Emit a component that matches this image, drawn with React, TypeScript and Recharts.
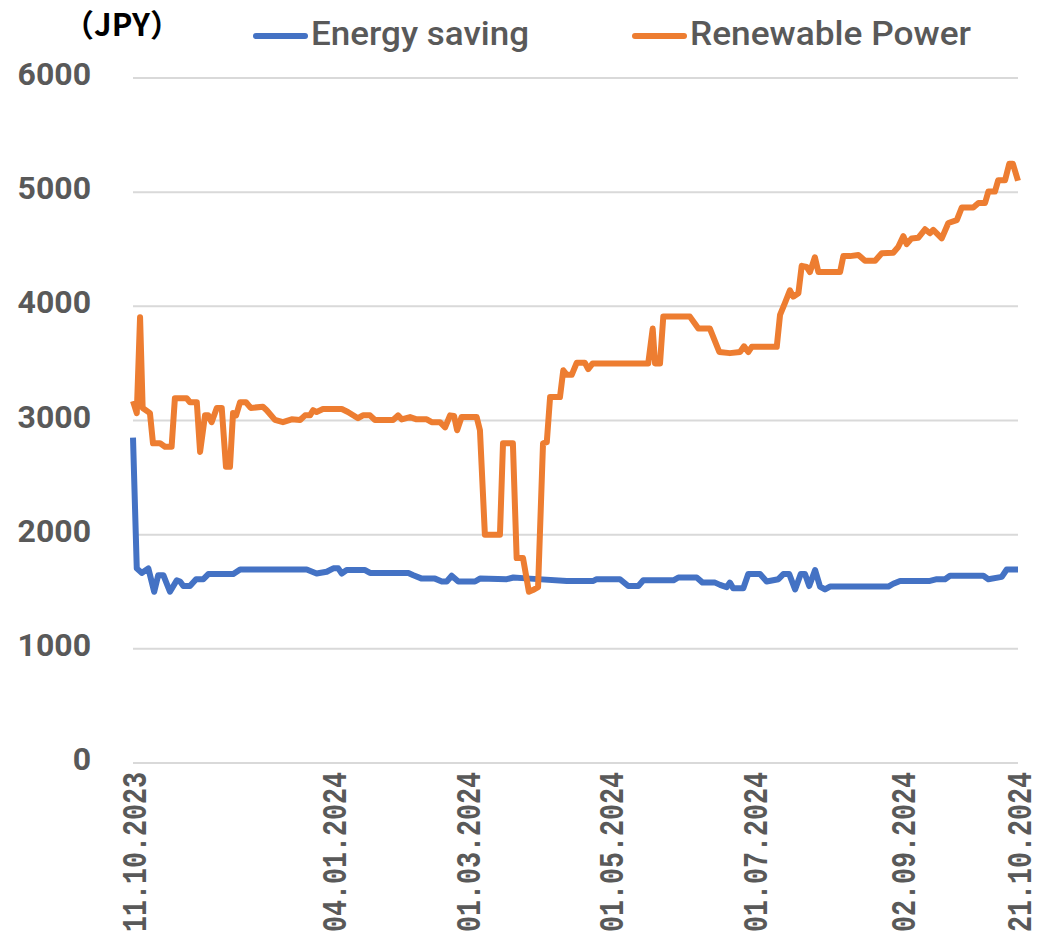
import { CartesianGrid, Legend, Line, LineChart, XAxis, YAxis } from "recharts";

// x = days since 11.10.2023
const energyDays = [
  0, 1.6, 3.7, 6.5, 9.0, 10.7, 12.9, 15.7, 18.6, 20.0, 21.4, 24.2, 26.8, 29.9,
  32.0, 42.6, 45.5, 73.8, 78.0, 82.3, 85.1, 87.2, 88.7, 90.8, 98.6, 100.7,
  117.0, 119.1, 122.7, 128.3, 131.2, 133.3, 135.4, 138.2, 145.3, 147.4, 158.8,
  161.6, 168.7, 184.3, 195.6, 197.0, 206.9, 210.4, 214.7, 216.8, 229.6, 231.7,
  239.5, 242.0, 247.3, 249.4, 252.2, 253.6, 255.0, 259.3, 261.4, 266.4, 269.2,
  274.2, 276.3, 278.8, 281.3, 283.7, 285.5, 287.3, 289.8, 291.9, 294.0, 296.1,
  320.9, 323.0, 325.9, 338.6, 341.5, 345.0, 347.1, 361.3, 363.4, 369.1, 371.2,
  376,
];
const energyValues = [
  2850, 1705, 1665, 1705, 1500, 1645, 1645, 1500, 1600, 1590, 1550, 1550, 1610,
  1610, 1655, 1655, 1695, 1695, 1660, 1675, 1705, 1705, 1660, 1690, 1690, 1665,
  1665, 1645, 1615, 1615, 1590, 1590, 1640, 1590, 1590, 1615, 1610, 1625, 1615,
  1595, 1595, 1610, 1610, 1550, 1550, 1600, 1600, 1625, 1625, 1580, 1580, 1560,
  1540, 1580, 1530, 1530, 1655, 1655, 1590, 1610, 1655, 1655, 1520, 1655, 1655,
  1550, 1690, 1545, 1520, 1545, 1545, 1570, 1595, 1595, 1610, 1610, 1640, 1640,
  1610, 1630, 1695, 1695,
];

const renewDays = [
  0, 1.6, 3.0, 4.1, 7.2, 8.5, 11.5, 13.6, 16.4, 17.8, 22.8, 24.2, 27.1, 28.5,
  30.6, 32.0, 33.4, 35.6, 37.7, 39.5, 41.2, 42.5, 43.8, 45.5, 48.0, 50.0, 55.2,
  56.8, 60.3, 63.7, 67.4, 71.0, 73.1, 75.2, 76.5, 78.0, 80.7, 88.7, 91.3, 95.6,
  97.7, 100.7, 102.8, 110.5, 112.6, 114.2, 117.7, 120.5, 124.8, 126.9, 130.4,
  132.6, 134.7, 136.4, 137.7, 139.6, 146.0, 147.4, 149.5, 155.9, 157.2, 161.4,
  163.0, 165.7, 168.2, 169.9, 172.1, 174.2, 175.8, 177.2, 181.4, 182.8, 184.3,
  186.4, 188.5, 192.0, 193.4, 195.3, 218.9, 220.8, 221.8, 223.9, 225.3, 236.6,
  240.2, 245.1, 249.1, 253.6, 257.9, 259.6, 261.4, 262.9, 273.5, 274.9, 277.0,
  279.1, 280.5, 282.7, 284.1, 286.2, 287.6, 289.7, 291.2, 300.4, 301.8, 304.6,
  308.2, 311.0, 315.3, 318.1, 323.0, 325.1, 327.3, 328.7, 330.8, 333.6, 336.5,
  338.6, 340.0, 343.6, 346.4, 350.0, 352.1, 357.0, 359.2, 362.0, 363.4, 366.2,
  367.6, 370.5, 372.3, 373.8, 376,
];
const renewValues = [
  3170, 3065, 3905, 3110, 3065, 2800, 2800, 2770, 2770, 3195, 3195, 3160, 3160,
  2725, 3045, 3045, 2985, 3110, 3110, 2595, 2595, 3065, 3045, 3160, 3160, 3110,
  3120, 3090, 3005, 2985, 3010, 3005, 3045, 3045, 3090, 3075, 3100, 3100, 3075,
  3020, 3045, 3045, 3005, 3005, 3045, 3010, 3030, 3010, 3010, 2985, 2985, 2940,
  3045, 3040, 2915, 3030, 3030, 2915, 2000, 2000, 2800, 2800, 1795, 1795, 1500,
  1515, 1540, 2800, 2810, 3205, 3205, 3440, 3400, 3400, 3505, 3505, 3450, 3500,
  3500, 3805, 3500, 3500, 3910, 3910, 3805, 3805, 3600, 3590, 3600, 3650, 3600,
  3645, 3645, 3925, 4030, 4140, 4085, 4115, 4355, 4345, 4300, 4430, 4300, 4300,
  4440, 4440, 4450, 4400, 4400, 4465, 4470, 4520, 4615, 4545, 4595, 4600, 4675,
  4640, 4670, 4595, 4730, 4755, 4865, 4865, 4905, 4905, 5005, 5005, 5105, 5105,
  5250, 5250, 5100,
];

const tickDays = [0, 85, 142, 203, 264, 327, 376];
const tickLabels = [
  "11.10.2023",
  "04.01.2024",
  "01.03.2024",
  "01.05.2024",
  "01.07.2024",
  "02.09.2024",
  "21.10.2024",
];
const yTicks = [0, 1000, 2000, 3000, 4000, 5000, 6000];

const seriesNames = ["Energy saving", "Renewable Power"];
const BLUE = "#4472C4";
const ORANGE = "#ED7D31";
const GRAY = "#595959";

const energyData = energyDays.map((d, i) => ({ day: d, value: energyValues[i] }));
const renewData = renewDays.map((d, i) => ({ day: d, value: renewValues[i] }));

function XTick(props: any) {
  const { x, y, payload } = props;
  const idx = tickDays.indexOf(payload.value);
  return (
    <g transform={`translate(${x},${y})`}>
      <text
        transform="rotate(-90)"
        textAnchor="end"
        dy={12.5}
        fill={GRAY}
        fontFamily="'Liberation Mono', monospace"
        fontWeight="bold"
        fontSize={35}
        textLength={160}
        lengthAdjust="spacingAndGlyphs"
      >
        {tickLabels[idx]}
      </text>
    </g>
  );
}

function YTick(props: any) {
  const { x, y, payload } = props;
  return (
    <text
      x={x}
      y={y}
      dy={7}
      textAnchor="end"
      fill={GRAY}
      fontFamily="Roboto, sans-serif"
      fontWeight="bold"
      fontSize={32}
    >
      {payload.value}
    </text>
  );
}

function ChartLegend() {
  return (
    <svg width={1043} height={70}>
      <line x1={256} y1={36} x2={305} y2={36} stroke={BLUE} strokeWidth={6} strokeLinecap="round" />
      <text x={311} y={45} fill={GRAY} fontFamily="Roboto, sans-serif" fontWeight={500} fontSize={33} textLength={218} lengthAdjust="spacingAndGlyphs">
        {seriesNames[0]}
      </text>
      <line x1={635} y1={36} x2={684} y2={36} stroke={ORANGE} strokeWidth={6} strokeLinecap="round" />
      <text x={690} y={45} fill={GRAY} fontFamily="Roboto, sans-serif" fontWeight={500} fontSize={33} textLength={281} lengthAdjust="spacingAndGlyphs">
        {seriesNames[1]}
      </text>
    </svg>
  );
}

export default function App() {
  return (
    <div style={{ position: "absolute", left: 0, top: 0, width: 1043, height: 940, background: "#fff" }}>
      <LineChart width={1043} height={940} margin={{ top: 78, right: 25, left: 0, bottom: 0 }}>
        <CartesianGrid vertical={false} stroke="#d9d9d9" strokeWidth={2} />
        <XAxis
          type="number"
          dataKey="day"
          domain={[0, 376]}
          ticks={tickDays}
          tick={<XTick />}
          tickLine={false}
          tickSize={0}
          tickMargin={9}
          axisLine={{ stroke: "#d9d9d9", strokeWidth: 2 }}
          height={177}
          interval={0}
        />
        <YAxis
          domain={[0, 6000]}
          ticks={yTicks}
          tick={<YTick />}
          tickLine={false}
          tickSize={0}
          tickMargin={42}
          axisLine={false}
          width={133}
          interval={0}
          label={{
            content: () => (
              <text
                x={122}
                y={36}
                textAnchor="middle"
                fill="#000"
                fontFamily="'Noto Sans CJK JP', sans-serif"
                fontWeight="bold"
                fontSize={31}
              >
                （JPY）
              </text>
            ),
          }}
        />
        <Legend
          layout="horizontal"
          verticalAlign="middle"
          align="center"
          wrapperStyle={{ top: 0, left: 0, width: 1043, height: 70 }}
          content={() => <ChartLegend />}
        />
        <Line
          data={energyData}
          dataKey="value"
          name={seriesNames[0]}
          type="linear"
          stroke={BLUE}
          strokeWidth={6}
          strokeLinejoin="round"
          dot={false}
          activeDot={false}
          isAnimationActive={false}
        />
        <Line
          data={renewData}
          dataKey="value"
          name={seriesNames[1]}
          type="linear"
          stroke={ORANGE}
          strokeWidth={6}
          strokeLinejoin="round"
          dot={false}
          activeDot={false}
          isAnimationActive={false}
        />
      </LineChart>
    </div>
  );
}
